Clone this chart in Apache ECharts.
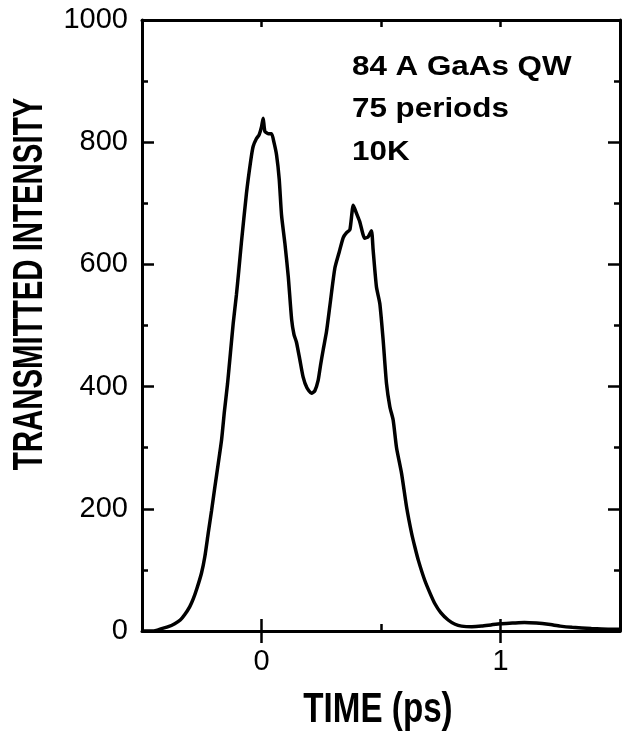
<!DOCTYPE html>
<html>
<head>
<meta charset="utf-8">
<script src="https://cdn.jsdelivr.net/npm/echarts@6/dist/echarts.min.js"></script>
<style>
  html, body { margin: 0; padding: 0; background: #fff; }
  #chart { width: 628px; height: 734px; }
</style>
</head>
<body>
<div id="chart"></div>
<script>
// Transmitted pulse intensity versus delay time
const timePs = [
  -0.50, -0.46, -0.44, -0.418, -0.39, -0.363, -0.34, -0.321, -0.30, -0.286,
  -0.27, -0.251, -0.237, -0.223, -0.209, -0.195, -0.181, -0.167, -0.155, -0.142,
  -0.130, -0.118, -0.105, -0.095, -0.084, -0.063, -0.045, -0.035, -0.021, -0.010,
  0.0, 0.007, 0.014, 0.028, 0.042, 0.052, 0.063, 0.074, 0.084, 0.098,
  0.112, 0.126, 0.136, 0.146, 0.160, 0.174, 0.190, 0.209, 0.223, 0.237,
  0.247, 0.258, 0.272, 0.286, 0.307, 0.325, 0.342, 0.356, 0.370, 0.384,
  0.398, 0.411, 0.432, 0.446, 0.460, 0.467, 0.481, 0.495, 0.509, 0.523,
  0.537, 0.551, 0.565, 0.586, 0.607, 0.628, 0.642, 0.656, 0.683, 0.705,
  0.725, 0.750, 0.781, 0.810, 0.837, 0.880, 0.921, 0.960, 1.000, 1.050,
  1.100, 1.150, 1.200, 1.250, 1.300, 1.380, 1.450, 1.500
];
const intensity = [
  0, 0, 1, 4, 7, 12, 18, 27, 40, 52,
  70, 95, 122, 160, 197, 236, 274, 313, 360, 405,
  455, 505, 550, 590, 636, 716, 770, 793, 806, 812,
  825, 839, 818, 814, 814, 800, 779, 740, 680, 634,
  580, 510, 485, 473, 445, 416, 398, 389, 393, 410,
  435, 460, 490, 532, 594, 620, 644, 652, 657, 697,
  683, 670, 643, 645, 655, 624, 563, 536, 476, 405,
  367, 345, 300, 258, 203, 160, 137, 116, 83, 62,
  45, 30, 18, 11, 8, 7, 8, 10, 12, 13,
  14, 13, 11, 8, 6, 4, 3, 3
];
const xLabelValues = [0, 1];
const yTickInterval = 200;
const annotationLines = ['84 A GaAs QW', '75 periods', '10K'];
const xTitle = 'TIME (ps)';
const yTitle = 'TRANSMITTED INTENSITY';

const FONT = '"Liberation Sans", Arial, Helvetica, sans-serif';
const INK = '#000';

const chart = echarts.init(document.getElementById('chart'), null, { renderer: 'canvas' });

const xBase = {
  type: 'value', min: -0.5, max: 1.5, interval: 0.5,
  splitLine: { show: false }
};
const yBase = {
  type: 'value', min: 0, max: 1000, interval: yTickInterval,
  splitLine: { show: false }, minorSplitLine: { show: false }
};
const frameLine = { show: true, onZero: false, lineStyle: { color: INK, width: 3 } };
const shortTick = { show: true, inside: true, length: 7, lineStyle: { color: INK, width: 2.5 } };
const longTick = { show: true, inside: true, length: 12, customValues: xLabelValues, lineStyle: { color: INK, width: 2.5 } };

const option = {
  animation: false,
  backgroundColor: '#fff',
  grid: { left: 142, right: 8, top: 20, bottom: 103, outerBoundsMode: 'none' },
  xAxis: [
    Object.assign({}, xBase, {
      position: 'bottom', axisLine: frameLine, axisTick: shortTick,
      axisLabel: {
        show: true, customValues: xLabelValues, color: INK, fontSize: 29,
        fontFamily: FONT, margin: 16, formatter: v => String(v)
      }
    }),
    Object.assign({}, xBase, {
      position: 'bottom', axisLine: { show: false }, axisTick: longTick,
      axisLabel: { show: false }
    }),
    Object.assign({}, xBase, {
      position: 'top', axisLine: frameLine, axisTick: shortTick,
      axisLabel: { show: false }
    }),
    Object.assign({}, xBase, {
      position: 'top', axisLine: { show: false }, axisTick: longTick,
      axisLabel: { show: false }
    })
  ],
  yAxis: [
    Object.assign({}, yBase, {
      position: 'left', axisLine: frameLine,
      axisTick: { show: true, inside: true, length: 12, lineStyle: { color: INK, width: 2.5 } },
      minorTick: { show: true, splitNumber: 2, length: 6, lineStyle: { color: INK, width: 2.5 } },
      axisLabel: {
        show: true, color: INK, fontSize: 29, fontFamily: FONT, margin: 14,
        formatter: v => String(v)
      }
    }),
    Object.assign({}, yBase, {
      position: 'right', axisLine: frameLine,
      axisTick: { show: true, inside: true, length: 12, lineStyle: { color: INK, width: 2.5 } },
      minorTick: { show: true, splitNumber: 2, length: 6, lineStyle: { color: INK, width: 2.5 } },
      axisLabel: { show: false }
    })
  ],
  series: [{
    type: 'line',
    xAxisIndex: 0,
    yAxisIndex: 0,
    data: timePs.map((t, i) => [t, intensity[i]]),
    showSymbol: false,
    smooth: 0.2,
    lineStyle: { color: INK, width: 3.5 },
    z: 3
  }],
  graphic: [
    {
      type: 'text', x: 30, y: 284, rotation: Math.PI / 2, scaleX: 0.70, scaleY: 1,
      style: {
        text: yTitle, fill: INK, font: 'bold 42px ' + FONT,
        align: 'center', verticalAlign: 'middle',
        textAlign: 'center', textVerticalAlign: 'middle'
      }
    },
    {
      type: 'text', x: 378, y: 710, scaleX: 0.79, scaleY: 1,
      style: {
        text: xTitle, fill: INK, font: 'bold 42px ' + FONT,
        align: 'center', verticalAlign: 'middle',
        textAlign: 'center', textVerticalAlign: 'middle'
      }
    }
  ].concat(annotationLines.map((line, i) => ({
    type: 'text', x: 352, y: 67 + i * 42.5, scaleX: 1.12, scaleY: 1,
    style: {
      text: line, fill: INK, font: 'bold 28px ' + FONT,
      align: 'left', verticalAlign: 'middle',
      textAlign: 'left', textVerticalAlign: 'middle'
    }
  })))
};

chart.setOption(option);
</script>
</body>
</html>
